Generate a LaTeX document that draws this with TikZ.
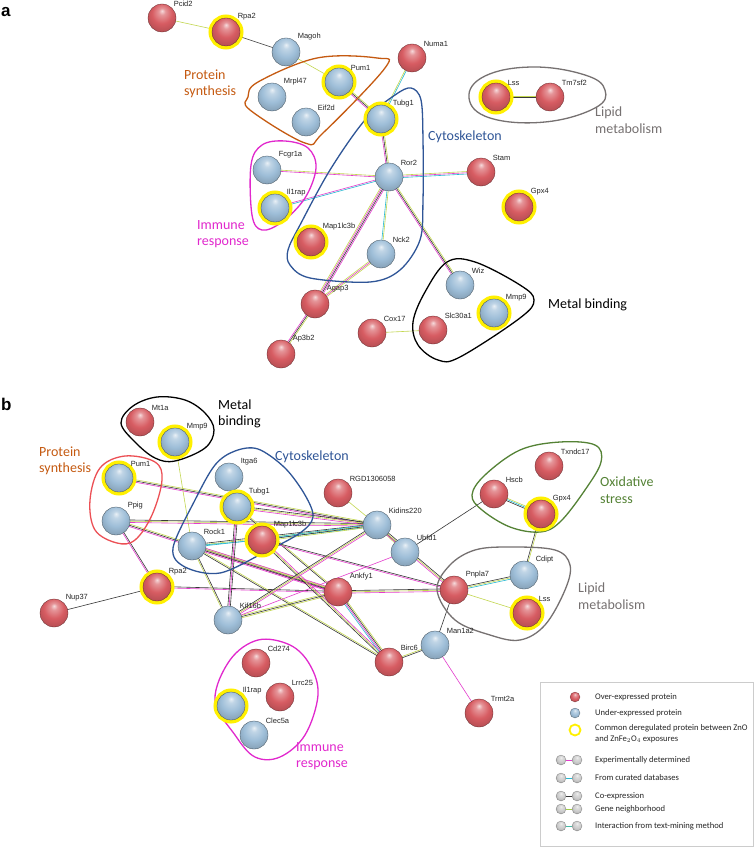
\documentclass[tikz,border=0pt]{standalone}
\usepackage{fontspec}
\newfontfamily\labfont{Liberation Sans}
\newfontfamily\carfont{Carlito}
\usetikzlibrary{calc}
\pgfdeclarelayer{bg}
\pgfsetlayers{bg,main}
\definecolor{rc}{RGB}{215,92,98}
\definecolor{bc}{RGB}{158,190,216}
\definecolor{gc}{RGB}{205,205,205}
\definecolor{ringy}{RGB}{255,240,0}
\definecolor{ex}{RGB}{228,60,205}
\definecolor{db}{RGB}{40,185,210}
\definecolor{co}{RGB}{55,55,55}
\definecolor{tm}{RGB}{195,215,80}
\definecolor{gn}{RGB}{160,205,70}
\definecolor{txm}{RGB}{70,185,165}
\definecolor{orT}{RGB}{197,90,17}
\definecolor{orB}{RGB}{236,80,85}
\definecolor{cyT}{RGB}{47,85,151}
\definecolor{imT}{RGB}{225,40,205}
\definecolor{liT}{RGB}{118,113,113}
\definecolor{oxT}{RGB}{84,130,53}
\pgfdeclareradialshading{rball}{\pgfpoint{0bp}{13bp}}{color(0bp)=(rc!22!white); color(6bp)=(rc!65!white); color(18bp)=(rc); color(30bp)=(rc!85!black); color(37bp)=(rc!45!black); color(50bp)=(rc!45!black)}
\pgfdeclareradialshading{bball}{\pgfpoint{0bp}{13bp}}{color(0bp)=(bc!22!white); color(6bp)=(bc!65!white); color(18bp)=(bc); color(30bp)=(bc!85!black); color(37bp)=(bc!45!black); color(50bp)=(bc!45!black)}
\pgfdeclareradialshading{gball}{\pgfpoint{0bp}{13bp}}{color(0bp)=(gc!22!white); color(6bp)=(gc!65!white); color(18bp)=(gc); color(30bp)=(gc!85!black); color(37bp)=(gc!55!black); color(50bp)=(gc!55!black)}
\newcommand\bund[3]{%
  \foreach \cc [count=\ii] in {#3} {\xdef\bundn{\ii}}%
  \foreach \cc [count=\ii] in {#3} {%
    \pgfmathsetmacro\bundoff{(\ii-(\bundn+1)/2)*1.25}%
    \draw[lnk,\cc] ($(#1)!\bundoff pt!90:(#2)$) -- ($(#2)!\bundoff pt!-90:(#1)$);
  }}
\begin{document}
\begin{tikzpicture}[x=1pt,y=-1pt,
  ballb/.style={circle, minimum size=28pt, inner sep=0pt, line width=0.3pt},
  ro/.style={ballb, shading=rball, draw=rc!45!black},
  bu/.style={ballb, shading=bball, draw=bc!40!black},
  cring/.style={preaction={draw=ringy, line width=7pt}},
  lbl/.style={font=\labfont\fontsize{7.5}{8}\selectfont, inner sep=0.5pt, text=black!85, label distance=1.5pt},
  lnk/.style={line width=0.6pt},
  outl/.style={line width=1.3pt},
  grp/.style={font=\carfont\fontsize{14}{16.5}\selectfont, align=left, anchor=west, inner sep=0pt},
  leg/.style={font=\carfont\fontsize{8.6}{11}\selectfont, align=left, anchor=west, inner sep=0pt, text=black!85},
  panel/.style={font=\labfont\bfseries\fontsize{17}{17}\selectfont, anchor=west, inner sep=0pt}]
\useasboundingbox (0,0) rectangle (755,848);
\begin{pgfonlayer}{bg}
\fill[white] (0,0) rectangle (755,848);
\end{pgfonlayer}

% panel labels
\node[panel] (pa) at (1,12) {a};
\node[panel] (pb) at (1,404) {b};

% ================= panel a outlines
\draw[outl, orT] plot[smooth cycle, tension=0.6] coordinates {(248,97) (258,82) (317,58) (377,58) (385,68) (323,133) (305,143) (250,110)};
\draw[outl, cyT] plot[smooth cycle, tension=0.55] coordinates {(288,250) (300,225) (330,170) (365,120) (395,95) (411,88) (421,100) (423,140) (423,200) (420,240) (400,270) (370,282) (310,278) (290,265)};
\draw[outl, imT] plot[smooth cycle, tension=0.6] coordinates {(251,165) (262,145) (285,141) (308,148) (316,168) (305,198) (282,222) (262,230) (252,215)};
\draw[outl, liT] plot[smooth cycle, tension=0.7] coordinates {(469,98) (485,76) (533,67) (585,75) (605,90) (595,108) (545,122) (490,118)};
\draw[outl, black] plot[smooth cycle, tension=0.6] coordinates {(447,262) (475,262) (520,285) (534,300) (520,318) (460,357) (438,360) (418,345) (413,322) (425,292)};

\node[grp, text=orT] (ga-ps) at (184,84) {Protein\\synthesis};
\node[grp, text=imT] (ga-im) at (197,234) {Immune\\response};
\node[grp, text=cyT] (ga-cy) at (428,137) {Cytoskeleton};
\node[grp, text=liT] (ga-li) at (595,120) {Lipid\\metabolism};
\node[grp, text=black] (ga-mb) at (548,305) {Metal binding};

% ================= panel a nodes
\node[ro,label={[lbl]45:Pcid2}] (a-Pcid2) at (162,18) {};
\node[ro,cring,label={[lbl]45:Rpa2}] (a-Rpa2) at (226,32) {};
\node[bu,label={[lbl]45:Magoh}] (a-Magoh) at (286,52) {};
\node[bu,cring,label={[lbl]45:Pum1}] (a-Pum1) at (339,82) {};
\node[bu,label={[lbl]45:Mrpl47}] (a-Mrpl47) at (272,97) {};
\node[bu,label={[lbl]45:Eif2d}] (a-Eif2d) at (306,122) {};
\node[bu,cring,label={[lbl]45:Tubg1}] (a-Tubg1) at (381,119) {};
\node[ro,label={[lbl]45:Numa1}] (a-Numa1) at (412,58) {};
\node[ro,cring,label={[lbl]45:Lss}] (a-Lss) at (496,97) {};
\node[ro,label={[lbl]45:Tm7sf2}] (a-Tm7sf2) at (550,97) {};
\node[bu,label={[lbl]45:Ror2}] (a-Ror2) at (389,177) {};
\node[bu,label={[lbl]45:Fcgr1a}] (a-Fcgr1a) at (267,170) {};
\node[bu,cring,label={[lbl]45:Il1rap}] (a-Il1rap) at (275,208) {};
\node[ro,label={[lbl]45:Stam}] (a-Stam) at (481,172) {};
\node[ro,cring,label={[lbl]45:Gpx4}] (a-Gpx4) at (519,207) {};
\node[ro,cring,label={[lbl]45:Map1lc3b}] (a-Map1lc3b) at (311,242) {};
\node[bu,label={[lbl]45:Nck2}] (a-Nck2) at (381,254) {};
\node[ro,label={[lbl]45:Agap3}] (a-Agap3) at (315,304) {};
\node[ro,label={[lbl]45:Ap3b2}] (a-Ap3b2) at (281,354) {};
\node[bu,label={[lbl]45:Wiz}] (a-Wiz) at (460,285) {};
\node[bu,cring,label={[lbl]45:Mmp9}] (a-Mmp9) at (494,313) {};
\node[ro,label={[lbl]45:Cox17}] (a-Cox17) at (372,333) {};
\node[ro,label={[lbl]45:Slc30a1}] (a-Slc30a1) at (433,330) {};

% ================= panel b outlines
\draw[outl, black] plot[smooth cycle, tension=0.6] coordinates {(121,423) (133,406) (157,397) (185,400) (205,413) (214,430) (205,448) (175,461) (155,458) (135,442)};
\draw[outl, orB] plot[smooth cycle, tension=0.6] coordinates {(90,500) (100,468) (125,456) (155,462) (162,480) (152,515) (135,540) (117,543) (95,530)};
\draw[outl, cyT] plot[smooth cycle, tension=0.55] coordinates {(173,548) (195,500) (215,465) (235,451) (258,449) (285,468) (305,495) (313,517) (300,533) (265,552) (220,573) (185,567)};
\draw[outl, oxT] plot[smooth cycle, tension=0.6] coordinates {(472,495) (485,475) (520,450) (560,442) (595,445) (601,462) (585,490) (560,522) (540,532) (510,527) (482,510)};
\draw[outl, liT] plot[smooth cycle, tension=0.6] coordinates {(437,590) (450,565) (475,550) (510,547) (555,550) (570,565) (565,590) (545,625) (520,640) (490,635) (455,620)};
\draw[outl, imT] plot[smooth cycle, tension=0.6] coordinates {(215,700) (230,660) (258,640) (290,645) (310,665) (318,695) (305,735) (280,757) (255,757) (235,735)};

\node[grp, text=black] (gb-mb) at (218,414) {Metal\\binding};
\node[grp, text=orT] (gb-ps) at (39,461) {Protein\\synthesis};
\node[grp, text=cyT] (gb-cy) at (275,457) {Cytoskeleton};
\node[grp, text=oxT] (gb-ox) at (600,490) {Oxidative\\stress};
\node[grp, text=liT] (gb-li) at (578,596) {Lipid\\metabolism};
\node[grp, text=imT] (gb-im) at (296,756) {Immune\\response};

% ================= panel b nodes
\node[ro,label={[lbl]45:Mt1a}] (b-Mt1a) at (140,422) {};
\node[bu,cring,label={[lbl]45:Mmp9}] (b-Mmp9) at (175,442) {};
\node[bu,cring,label={[lbl]45:Pum1}] (b-Pum1) at (119,478) {};
\node[bu,label={[lbl]45:Ppig}] (b-Ppig) at (116,521) {};
\node[ro,cring,label={[lbl]45:Rpa2}] (b-Rpa2) at (157,587) {};
\node[ro,label={[lbl]45:Nup37}] (b-Nup37) at (54,613) {};
\node[bu,label={[lbl]45:Rock1}] (b-Rock1) at (192,546) {};
\node[bu,label={[lbl]45:Itga6}] (b-Itga6) at (229,477) {};
\node[bu,cring,label={[lbl]45:Tubg1}] (b-Tubg1) at (237,507) {};
\node[ro,cring,label={[lbl]45:Map1lc3b}] (b-Map1lc3b) at (262,540) {};
\node[bu,label={[lbl]45:Kif16b}] (b-Kif16b) at (228,620) {};
\node[ro,label={[lbl]45:RGD1306058}] (b-RGD) at (338,493) {};
\node[bu,label={[lbl]45:Kidins220}] (b-Kidins220) at (377,525) {};
\node[bu,label={[lbl]45:Ubfd1}] (b-Ubfd1) at (405,552) {};
\node[ro,label={[lbl]45:Ankfy1}] (b-Ankfy1) at (338,592) {};
\node[ro,label={[lbl]45:Pnpla7}] (b-Pnpla7) at (454,590) {};
\node[bu,label={[lbl]45:Man1a2}] (b-Man1a2) at (435,645) {};
\node[ro,label={[lbl]45:Birc6}] (b-Birc6) at (389,662) {};
\node[ro,label={[lbl]45:Hscb}] (b-Hscb) at (494,494) {};
\node[ro,label={[lbl]45:Txndc17}] (b-Txndc17) at (549,466) {};
\node[ro,cring,label={[lbl]45:Gpx4}] (b-Gpx4) at (541,514) {};
\node[bu,label={[lbl]45:Cdipt}] (b-Cdipt) at (524,575) {};
\node[ro,cring,label={[lbl]45:Lss}] (b-Lss) at (527,613) {};
\node[ro,label={[lbl]45:Trmt2a}] (b-Trmt2a) at (479,713) {};
\node[ro,label={[lbl]45:Cd274}] (b-Cd274) at (256,663) {};
\node[ro,label={[lbl]45:Lrrc25}] (b-Lrrc25) at (280,697) {};
\node[bu,cring,label={[lbl]45:Il1rap}] (b-Il1rap) at (231,706) {};
\node[bu,label={[lbl]45:Clec5a}] (b-Clec5a) at (254,735) {};

% ================= edges
\begin{pgfonlayer}{bg}
\bund{a-Pcid2}{a-Rpa2}{tm}
\bund{a-Rpa2}{a-Magoh}{co}
\bund{a-Magoh}{a-Pum1}{tm}
\bund{a-Pum1}{a-Tubg1}{ex,co,tm}
\bund{a-Tubg1}{a-Numa1}{db,tm}
\bund{a-Tubg1}{a-Ror2}{ex,co,tm}
\bund{a-Ror2}{a-Fcgr1a}{tm,ex}
\bund{a-Ror2}{a-Il1rap}{ex,db}
\bund{a-Ror2}{a-Stam}{db,ex,tm}
\bund{a-Ror2}{a-Agap3}{tm,ex,co,ex}
\bund{a-Ror2}{a-Nck2}{db,tm}
\bund{a-Ror2}{a-Wiz}{ex,co,tm}
\bund{a-Nck2}{a-Agap3}{tm,ex,tm}
\bund{a-Agap3}{a-Ap3b2}{ex,co,tm}
\bund{a-Cox17}{a-Slc30a1}{tm}
\bund{a-Lss}{a-Tm7sf2}{co,tm}

\bund{b-Mmp9}{b-Rock1}{tm}
\bund{b-Pum1}{b-Kidins220}{ex,co,tm}
\bund{b-Ppig}{b-Kidins220}{ex,tm,co}
\bund{b-Ppig}{b-Ankfy1}{ex,co,tm}
\bund{b-Ppig}{b-Rpa2}{ex,co}
\bund{b-Rpa2}{b-Nup37}{co}
\bund{b-Rpa2}{b-Ankfy1}{ex,co}
\bund{b-Rock1}{b-Kidins220}{db,tm,co}
\bund{b-Rock1}{b-Map1lc3b}{db}
\bund{b-Rock1}{b-Ankfy1}{ex,co,tm,ex}
\bund{b-Rock1}{b-Kif16b}{tm,co}
\bund{b-Rock1}{b-Birc6}{co,tm}
\bund{b-Tubg1}{b-Kidins220}{ex,tm,co}
\bund{b-Tubg1}{b-Kif16b}{co,ex,co}
\bund{b-Tubg1}{b-Ankfy1}{co,tm}
\bund{b-Map1lc3b}{b-Kidins220}{tm,co,db}
\bund{b-Map1lc3b}{b-Pnpla7}{ex,co}
\bund{b-Map1lc3b}{b-Birc6}{co,tm,ex}
\bund{b-Kif16b}{b-Kidins220}{ex,tm,co}
\bund{b-Kif16b}{b-Ankfy1}{tm,co,tm}
\bund{b-Kif16b}{b-Ubfd1}{ex}
\bund{b-Kidins220}{b-Ubfd1}{tm,co}
\bund{b-Kidins220}{b-Pnpla7}{ex,tm,co}
\bund{b-Ubfd1}{b-Hscb}{co}
\bund{b-RGD}{b-Kidins220}{tm}
\bund{b-Ankfy1}{b-Birc6}{db,ex,co,tm}
\bund{b-Ankfy1}{b-Pnpla7}{ex,tm,co}
\bund{b-Pnpla7}{b-Cdipt}{db,tm,co}
\bund{b-Pnpla7}{b-Lss}{tm}
\bund{b-Pnpla7}{b-Man1a2}{co}
\bund{b-Man1a2}{b-Birc6}{tm,co}
\bund{b-Man1a2}{b-Trmt2a}{ex}
\bund{b-Cdipt}{b-Gpx4}{tm,co}
\bund{b-Hscb}{b-Gpx4}{co,db,tm}
\end{pgfonlayer}

% ================= legend
\draw[black!20, line width=0.6pt] (540,682) rectangle (753,846);
\node[ro, minimum size=10pt, line width=0.2pt] (lg-r) at (575,697) {};
\node[leg] (lt-r) at (595,697) {Over-expressed protein};
\node[bu, minimum size=10pt, line width=0.2pt] (lg-b) at (575,713) {};
\node[leg] (lt-b) at (595,713) {Under-expressed protein};
\node[circle, draw=ringy, line width=1.8pt, minimum size=11pt, inner sep=0pt] (lg-y) at (575,730) {};
\node[leg] (lt-y) at (595,734) {Common deregulated protein between ZnO\\and ZnFe$_2$O$_4$ exposures};
\foreach \yy/\col/\txt [count=\k] in {760/ex/Experimentally determined, 778/db/From curated databases, 796/co/Co-expression, 809/gn/Gene neighborhood, 826/txm/Interaction from text-mining method} {
  \node[ballb, shading=gball, draw=gc!50!black, minimum size=10pt, line width=0.2pt] (li\k a) at (561,\yy) {};
  \node[ballb, shading=gball, draw=gc!50!black, minimum size=10pt, line width=0.2pt] (li\k b) at (577,\yy) {};
  \draw[\col, line width=0.8pt] (li\k a) -- (li\k b);
  \node[leg] (lt\k) at (595,\yy) {\txt};
}
\end{tikzpicture}
\end{document}
